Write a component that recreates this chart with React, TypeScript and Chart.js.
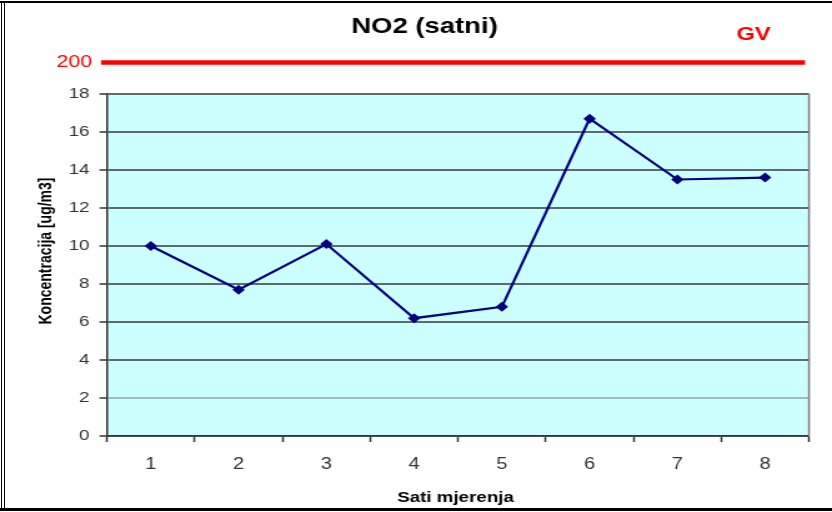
import React, { useEffect, useRef } from "react";
import { Chart, registerables } from "chart.js";

Chart.register(...registerables);

// ---- data ----
const hours: string[] = ["1", "2", "3", "4", "5", "6", "7", "8"];
const no2Values: number[] = [10.0, 7.7, 10.1, 6.2, 6.8, 16.7, 13.5, 13.6];
const yMin = 0;
const yMax = 18;
const yStep = 2;
const limitValue = 200;
const limitLabel = "GV";
const chartTitle = "NO2 (satni)";
const xAxisTitle = "Sati mjerenja";
const yAxisTitle = "Koncentracija [ug/m3]";

// ---- layout ----
const PAGE_W = 832;
const PAGE_H = 512;
const CANVAS_W = 666; // drawn narrower, then stretched horizontally like the reference
const SX = PAGE_W / CANVAS_W;
const FONT = "'Liberation Sans', Arial, sans-serif";

const decorPlugin = {
  id: "decor",
  beforeDraw(chart: any) {
    const { ctx, chartArea: a } = chart;
    ctx.save();
    ctx.fillStyle = "#ffffff";
    ctx.fillRect(0, 0, chart.width, chart.height);
    ctx.fillStyle = "#ccffff";
    ctx.fillRect(a.left, a.top, a.right - a.left, a.bottom - a.top);
    ctx.restore();
  },
  beforeDatasetsDraw(chart: any) {
    const { ctx, chartArea: a } = chart;
    ctx.save();
    ctx.strokeStyle = "#808080";
    ctx.lineWidth = 1.5;
    ctx.beginPath();
    ctx.moveTo(a.right, a.top);
    ctx.lineTo(a.right, a.bottom);
    ctx.stroke();
    ctx.restore();
  },
  afterDraw(chart: any) {
    const { ctx, chartArea: a } = chart;
    ctx.save();
    // title
    ctx.fillStyle = "#000000";
    ctx.font = `bold 22px ${FONT}`;
    ctx.textAlign = "center";
    ctx.textBaseline = "alphabetic";
    ctx.fillText(chartTitle, 424.5 / SX, 33);

    // limit value line
    const lineY = 62.5;
    ctx.strokeStyle = "#ff0000";
    ctx.lineWidth = 4.5;
    ctx.beginPath();
    ctx.moveTo(101 / SX, lineY);
    ctx.lineTo(805 / SX, lineY);
    ctx.stroke();

    ctx.fillStyle = "#ff0000";
    ctx.font = `17px ${FONT}`;
    ctx.textAlign = "right";
    ctx.textBaseline = "middle";
    ctx.fillText(String(limitValue), 92 / SX, lineY);

    ctx.font = `bold 19px ${FONT}`;
    ctx.textAlign = "center";
    ctx.textBaseline = "alphabetic";
    ctx.fillText(limitLabel, 753.5 / SX, 40);

    // axis titles
    ctx.fillStyle = "#000000";
    ctx.font = `bold 15px ${FONT}`;
    ctx.textAlign = "center";
    ctx.textBaseline = "alphabetic";
    ctx.fillText(xAxisTitle, (a.left + a.right) / 2 - 2, 502);

    ctx.translate(47 / SX, 251);
    ctx.rotate(-Math.PI / 2);
    ctx.font = `bold 14px ${FONT}`;
    ctx.textBaseline = "middle";
    ctx.fillText(yAxisTitle, 0, 0);
    ctx.restore();
  },
};

export default function App() {
  const ref = useRef<HTMLCanvasElement | null>(null);

  useEffect(() => {
    if (!ref.current) return;
    const chart = new Chart(ref.current, {
      type: "line",
      data: {
        labels: hours,
        datasets: [
          {
            data: no2Values,
            borderColor: "#000080",
            backgroundColor: "#000080",
            borderWidth: 2.2,
            pointStyle: "rectRot",
            pointRadius: 5,
            pointBorderWidth: 0,
            pointBackgroundColor: "#000080",
            tension: 0,
            fill: false,
          },
        ],
      },
      options: {
        animation: false,
        responsive: false,
        devicePixelRatio: 1,
        layout: { padding: { left: 0, top: 94, right: CANVAS_W - 809 / SX, bottom: 0 } },
        plugins: {
          legend: { display: false },
          title: { display: false },
          tooltip: { enabled: false },
        },
        scales: {
          x: {
            type: "category",
            offset: true,
            grid: {
              offset: true,
              drawOnChartArea: false,
              drawTicks: true,
              tickLength: 6,
              tickColor: "#333333",
              tickWidth: 1.5,
            },
            border: { color: "#333333", width: 1.5 },
            ticks: {
              color: "#333333",
              font: { family: FONT, size: 16 },
              padding: 13,
              maxRotation: 0,
            },
            afterFit: (s: any) => {
              s.height = PAGE_H - 436;
            },
          },
          y: {
            min: yMin,
            max: yMax,
            ticks: {
              stepSize: yStep,
              color: "#333333",
              font: { family: FONT, size: 15 },
              padding: 8,
            },
            grid: {
              color: (c: any) => (c.tick && c.tick.value === 2 ? "#9fbdbd" : "#5f6a6a"),
              lineWidth: 2,
              tickLength: 6,
              tickColor: "#333333",
              tickWidth: 1.5,
            },
            border: { color: "#333333", width: 1.5 },
            afterFit: (s: any) => {
              s.width = 107 / SX;
            },
          },
        },
      },
      plugins: [decorPlugin],
    });
    return () => chart.destroy();
  }, []);

  const line = (style: React.CSSProperties) => (
    <div style={{ position: "absolute", background: "#000", ...style }} />
  );

  return (
    <div style={{ position: "absolute", left: 0, top: 0, width: PAGE_W, height: PAGE_H, background: "#fff" }}>
      <canvas
        ref={ref}
        width={CANVAS_W}
        height={PAGE_H}
        style={{ position: "absolute", left: 0, top: 0, width: PAGE_W, height: PAGE_H }}
      />
      {line({ left: 0, top: 1, width: PAGE_W, height: 2 })}
      {line({ left: 1, top: 1, width: 1, height: 510 })}
      {line({ left: 4, top: 1, width: 1, height: 510 })}
      {line({ left: 0, top: 508, width: PAGE_W, height: 3 })}
    </div>
  );
}
